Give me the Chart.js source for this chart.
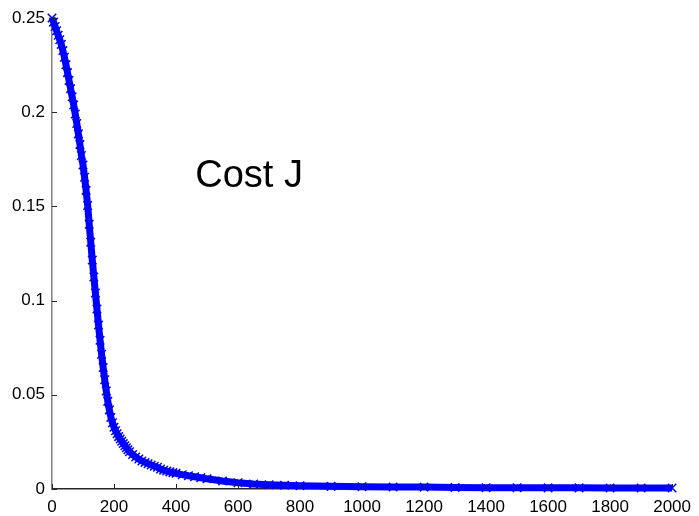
<!DOCTYPE html>
<html>
<head>
<meta charset="utf-8">
<script src="https://cdn.jsdelivr.net/npm/chart.js@4.4.1/dist/chart.umd.min.js"></script>
<style>
  html, body { margin: 0; padding: 0; background: #ffffff; }
  #wrap { width: 699px; height: 516px; }
</style>
</head>
<body>
<div id="wrap"><canvas id="cost" width="699" height="516"></canvas></div>
<script>
// Training iterations at which the cost was recorded
const iterations = [
  0, 5, 10, 15, 20, 25, 30, 35, 40, 45, 50, 55, 60, 65, 70, 75, 80, 85, 90, 95,
  100, 105, 110, 115, 120, 125, 130, 135, 140, 145, 150, 155, 160, 165, 170, 175,
  180, 185, 190, 195, 200, 205, 210, 215, 220, 225, 230, 235, 240, 245, 250,
  260, 270, 280, 290, 300, 310, 320, 330, 340, 350, 360, 370, 380, 390, 400,
  420, 440, 460, 480, 500, 550, 600, 650, 700, 750, 800, 900, 1000, 1100, 1200,
  1300, 1400, 1500, 1600, 1700, 1800, 1900, 2000
];

// Cost J at each recorded iteration
const costJ = [
  0.2500, 0.2478, 0.2455, 0.2432, 0.2408, 0.2385, 0.2360, 0.2327, 0.2292, 0.2252,
  0.2210, 0.2168, 0.2125, 0.2082, 0.2038, 0.1990, 0.1940, 0.1885, 0.1828, 0.1770,
  0.1720, 0.1655, 0.1585, 0.1505, 0.1405, 0.1310, 0.1215, 0.1125, 0.1040, 0.0955,
  0.0870, 0.0790, 0.0715, 0.0645, 0.0580, 0.0520, 0.0465, 0.0420, 0.0380, 0.0352,
  0.0328, 0.0309, 0.0293, 0.0278, 0.0265, 0.0253, 0.0241, 0.0230, 0.0219, 0.0208,
  0.0198, 0.0183, 0.0170, 0.0159, 0.0149, 0.0141, 0.0134, 0.0127, 0.0121, 0.0115,
  0.0106, 0.0100, 0.0095, 0.0091, 0.0087, 0.0083, 0.0076, 0.0070, 0.0065, 0.0060,
  0.0054, 0.0042, 0.0033, 0.0027, 0.0023, 0.0020, 0.0017, 0.0014, 0.0012, 0.0011,
  0.0010, 0.0008, 0.0007, 0.0007, 0.0006, 0.0006, 0.0005, 0.0005, 0.0005
];

const xTicks = [0, 200, 400, 600, 800, 1000, 1200, 1400, 1600, 1800, 2000];
const xTickLabels = ['0', '200', '400', '600', '800', '1000', '1200', '1400', '1600', '1800', '2000'];
const yTicks = [0, 0.05, 0.1, 0.15, 0.2, 0.25];
const yTickLabels = ['0', '0.05', '0.1', '0.15', '0.2', '0.25'];
const plotLabel = 'Cost J';

const points = iterations.map((it, i) => ({ x: it, y: costJ[i] }));
const BLUE = '#0000ff';

// MATLAB-style inward tick marks and the in-plot caption
const inwardTicks = {
  id: 'inwardTicks',
  afterDatasetsDraw(chart) {
    const { ctx, chartArea, scales } = chart;
    ctx.save();
    ctx.lineWidth = 1;
    ctx.strokeStyle = '#262626';
    ctx.beginPath();
    xTicks.forEach(v => {
      const px = Math.round(scales.x.getPixelForValue(v)) + 0.5;
      ctx.moveTo(px, chartArea.bottom);
      ctx.lineTo(px, chartArea.bottom - 5);
    });
    yTicks.forEach(v => {
      const py = Math.round(scales.y.getPixelForValue(v)) + 0.5;
      ctx.moveTo(chartArea.left, py);
      ctx.lineTo(chartArea.left + 5, py);
    });
    ctx.stroke();

    ctx.fillStyle = '#000000';
    ctx.font = '38px "Liberation Sans", Arial, sans-serif';
    ctx.textBaseline = 'alphabetic';
    ctx.textAlign = 'left';
    ctx.fillText(plotLabel, scales.x.getPixelForValue(462), scales.y.getPixelForValue(0.1605));
    ctx.restore();
  }
};

new Chart(document.getElementById('cost'), {
  type: 'scatter',
  data: {
    datasets: [{
      data: points,
      showLine: true,
      borderColor: BLUE,
      backgroundColor: BLUE,
      borderWidth: 7,
      pointStyle: 'crossRot',
      pointRadius: 6,
      pointBorderWidth: 1.5,
      pointBorderColor: BLUE,
      pointBackgroundColor: BLUE,
      pointHoverRadius: 6,
      pointHoverBorderColor: BLUE,
      clip: false
    }]
  },
  options: {
    responsive: false,
    animation: false,
    devicePixelRatio: 1,
    events: [],
    layout: { padding: { top: 18, right: 20, left: 0, bottom: 0 } },
    plugins: { legend: { display: false }, tooltip: { enabled: false } },
    scales: {
      x: {
        type: 'linear',
        min: 0,
        max: 2000,
        afterFit(scale) { scale.height = 27; },
        afterBuildTicks(scale) { scale.ticks = xTicks.map(v => ({ value: v })); },
        grid: { display: false, drawTicks: false },
        border: { display: true, color: '#262626', width: 1.5 },
        ticks: {
          padding: 8,
          color: '#000000',
          maxRotation: 0,
          autoSkip: false,
          font: { family: '"Liberation Sans", Arial, sans-serif', size: 17 },
          callback: (v, i) => xTickLabels[i]
        }
      },
      y: {
        type: 'linear',
        min: 0,
        max: 0.25,
        afterFit(scale) { scale.width = 52; },
        afterBuildTicks(scale) { scale.ticks = yTicks.map(v => ({ value: v })); },
        grid: { display: false, drawTicks: false },
        border: { display: true, color: '#808080', width: 1.5 },
        ticks: {
          padding: 7,
          color: '#000000',
          autoSkip: false,
          font: { family: '"Liberation Sans", Arial, sans-serif', size: 17 },
          callback: (v, i) => yTickLabels[i]
        }
      }
    }
  },
  plugins: [inwardTicks]
});
</script>
</body>
</html>
